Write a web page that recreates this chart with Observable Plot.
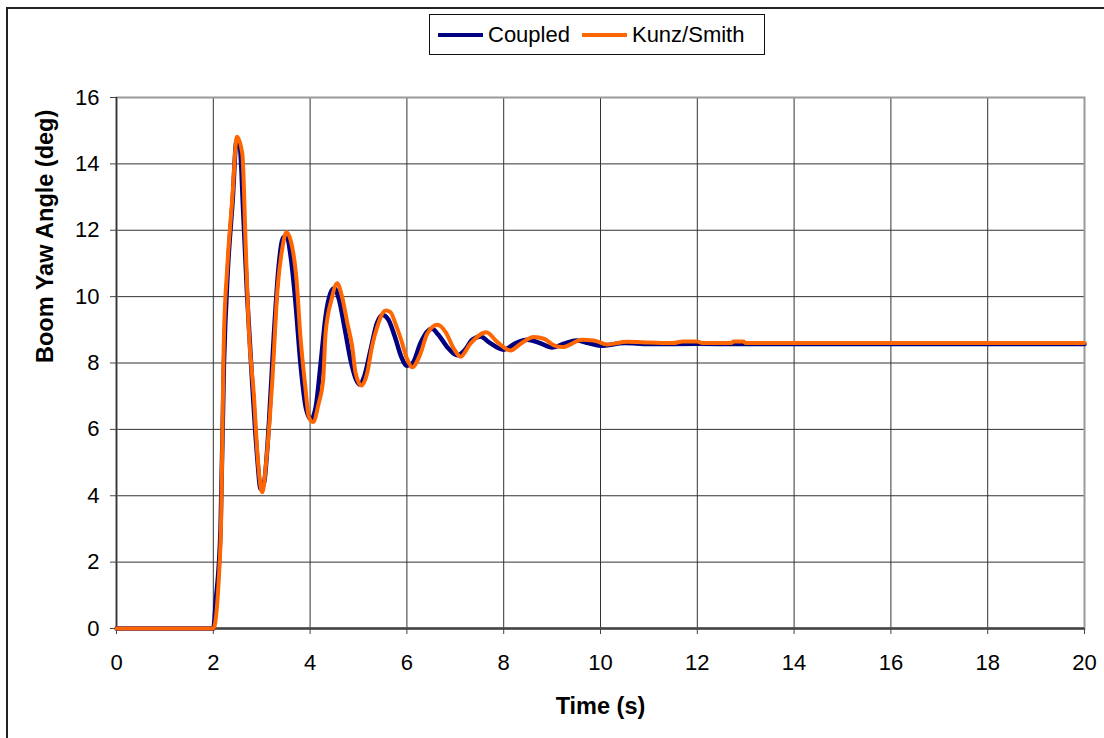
<!DOCTYPE html>
<html>
<head>
<meta charset="utf-8">
<script src="https://cdn.jsdelivr.net/npm/d3@7"></script>
<script src="https://cdn.jsdelivr.net/npm/@observablehq/plot@0.6"></script>
<style>
  html, body { margin: 0; padding: 0; background: #fff; overflow: hidden; }
  #wrap { position: relative; width: 1104px; height: 738px; overflow: hidden; font-family: "Liberation Sans", Arial, sans-serif; }
  #border { position: absolute; left: 6px; top: 7px; width: 1200px; height: 800px; border-left: 2px solid #222; border-top: 2px solid #222; }
  #legend { position: absolute; left: 429px; top: 14px; width: 334px; height: 39px; border: 1px solid #111; background: #fff;
            display: flex; align-items: center; font-size: 22px; color: #000; }
  #legend .sw { display: inline-block; width: 45px; height: 0; border-top: 4px solid; margin-left: 8px; margin-right: 5px; }
  #chart { position: absolute; left: 0; top: 0; }
</style>
</head>
<body>
<div id="wrap">
  <div id="border"></div>
  <div id="chart"></div>
  <div id="legend"></div>
</div>
<script>
// Series names and colours
const seriesNames = ["Coupled", "Kunz/Smith"];
const seriesColors = ["#000080", "#FF6600"];

// Coupled (time s, angle deg)
const coupledT = [0, 2.0, 2.05, 2.15, 2.22, 2.30, 2.40, 2.48, 2.55, 2.62, 2.70, 2.80, 2.90, 2.98, 3.05, 3.15, 3.25, 3.35, 3.45, 3.52, 3.60, 3.70, 3.80, 3.92, 4.02, 4.12, 4.22, 4.32, 4.42, 4.50, 4.60, 4.72, 4.85, 4.95, 5.03, 5.12, 5.25, 5.38, 5.50, 5.62, 5.75, 5.88, 6.00, 6.12, 6.28, 6.42, 6.52, 6.65, 6.85, 7.04, 7.20, 7.35, 7.52, 7.70, 8.00, 8.25, 8.49, 8.75, 9.00, 9.25, 9.50, 9.75, 10.0, 10.5, 11.0, 12.0, 13.0, 20.0];
const coupledV = [0, 0, 0.8, 3.0, 8.0, 10.8, 12.9, 14.7, 14.5, 12.5, 10.0, 7.5, 5.3, 4.2, 4.4, 6.2, 8.8, 10.9, 11.8, 11.8, 11.2, 9.8, 8.0, 6.6, 6.3, 6.7, 8.0, 9.4, 10.1, 10.25, 9.9, 9.0, 8.0, 7.5, 7.35, 7.6, 8.4, 9.2, 9.45, 9.3, 8.8, 8.2, 7.92, 8.0, 8.6, 8.95, 9.03, 8.85, 8.45, 8.23, 8.4, 8.7, 8.8, 8.62, 8.4, 8.6, 8.7, 8.6, 8.47, 8.58, 8.68, 8.6, 8.52, 8.6, 8.57, 8.58, 8.57, 8.57];

// Kunz/Smith (time s, angle deg)
const kunzT = [0, 2.0, 2.15, 2.22, 2.29, 2.39, 2.49, 2.60, 2.67, 2.73, 2.84, 2.91, 3.01, 3.11, 3.22, 3.33, 3.42, 3.51, 3.63, 3.72, 3.80, 3.90, 3.97, 4.06, 4.18, 4.27, 4.32, 4.44, 4.56, 4.66, 4.77, 4.87, 4.94, 5.06, 5.18, 5.28, 5.39, 5.56, 5.66, 5.76, 5.87, 6.01, 6.11, 6.28, 6.42, 6.63, 6.80, 6.97, 7.11, 7.31, 7.64, 7.87, 8.14, 8.35, 8.62, 8.83, 9.04, 9.21, 9.62, 9.86, 10.14, 10.55, 11.0, 11.5, 11.7, 12.0, 12.1, 12.7, 12.75, 12.95, 13.0, 20.0];
const kunzV = [0, 0, 2.6, 8.8, 10.9, 12.9, 14.82, 14.3, 11.5, 9.1, 7.0, 5.3, 4.11, 5.3, 7.5, 10.3, 11.4, 11.94, 11.5, 10.5, 8.8, 7.3, 6.4, 6.22, 6.8, 7.5, 8.9, 9.9, 10.4, 10.0, 9.2, 8.5, 7.7, 7.32, 7.7, 8.5, 9.1, 9.58, 9.53, 9.2, 8.75, 8.1, 7.87, 8.28, 8.88, 9.15, 8.93, 8.43, 8.19, 8.58, 8.93, 8.63, 8.38, 8.58, 8.78, 8.73, 8.53, 8.48, 8.70, 8.68, 8.56, 8.64, 8.62, 8.6, 8.65, 8.65, 8.6, 8.6, 8.65, 8.65, 8.6, 8.6];

// Tick labels
const xTicks = [0, 2, 4, 6, 8, 10, 12, 14, 16, 18, 20];
const yTicks = [0, 2, 4, 6, 8, 10, 12, 14, 16];
const xLabel = "Time (s)";
const yLabel = "Boom Yaw Angle (deg)";

const coupled = coupledT.map((t, i) => ({t, v: coupledV[i], s: seriesNames[0]}));
const kunz = kunzT.map((t, i) => ({t, v: kunzV[i], s: seriesNames[1]}));

const chart = Plot.plot({
  width: 1104,
  height: 738,
  marginLeft: 116,
  marginRight: 20,
  marginTop: 97,
  marginBottom: 110,
  style: {fontFamily: "'Liberation Sans', Arial, sans-serif", fontSize: "22px", background: "transparent", color: "#000"},
  x: {domain: [0, 20]},
  y: {domain: [0, 16]},
  marks: [
    Plot.gridX(xTicks.slice(1, -1), {stroke: "#333", strokeOpacity: 1, strokeWidth: 1}),
    Plot.gridY(yTicks.slice(1, -1), {stroke: "#333", strokeOpacity: 1, strokeWidth: 1}),
    Plot.frame({stroke: "#999", strokeWidth: 2}),
    Plot.ruleX([0], {stroke: "#333", strokeWidth: 1.5}),
    Plot.ruleY([0], {stroke: "#444", strokeWidth: 2.5}),
    Plot.axisX({ticks: xTicks, tickFormat: d => String(d), tickSize: 6, tickPadding: 20, label: null, stroke: "#444", fill: "#000"}),
    Plot.axisY({ticks: yTicks, tickFormat: d => String(d), tickSize: 6, tickPadding: 11, label: null, stroke: "#444", fill: "#000"}),
    Plot.line(coupled, {x: "t", y: "v", stroke: seriesColors[0], strokeWidth: 4.5, strokeLinejoin: "round", curve: "monotone-x"}),
    Plot.line(kunz, {x: "t", y: "v", stroke: seriesColors[1], strokeWidth: 4, strokeLinejoin: "round", curve: "monotone-x"}),
    Plot.text([yLabel], {frameAnchor: "left", rotate: -90, dx: -71, fontWeight: "bold", fontSize: 23.5, fill: "#000"}),
    Plot.text([xLabel], {frameAnchor: "bottom", dy: 85, fontWeight: "bold", fontSize: 23.5, fill: "#000"})
  ]
});
document.getElementById("chart").appendChild(chart);

const legend = document.getElementById("legend");
seriesNames.forEach((name, i) => {
  const sw = document.createElement("span");
  sw.className = "sw";
  sw.style.borderTopColor = seriesColors[i];
  if (i > 0) sw.style.marginLeft = "12px";
  legend.appendChild(sw);
  const tx = document.createElement("span");
  tx.textContent = name;
  legend.appendChild(tx);
});
</script>
</body>
</html>
